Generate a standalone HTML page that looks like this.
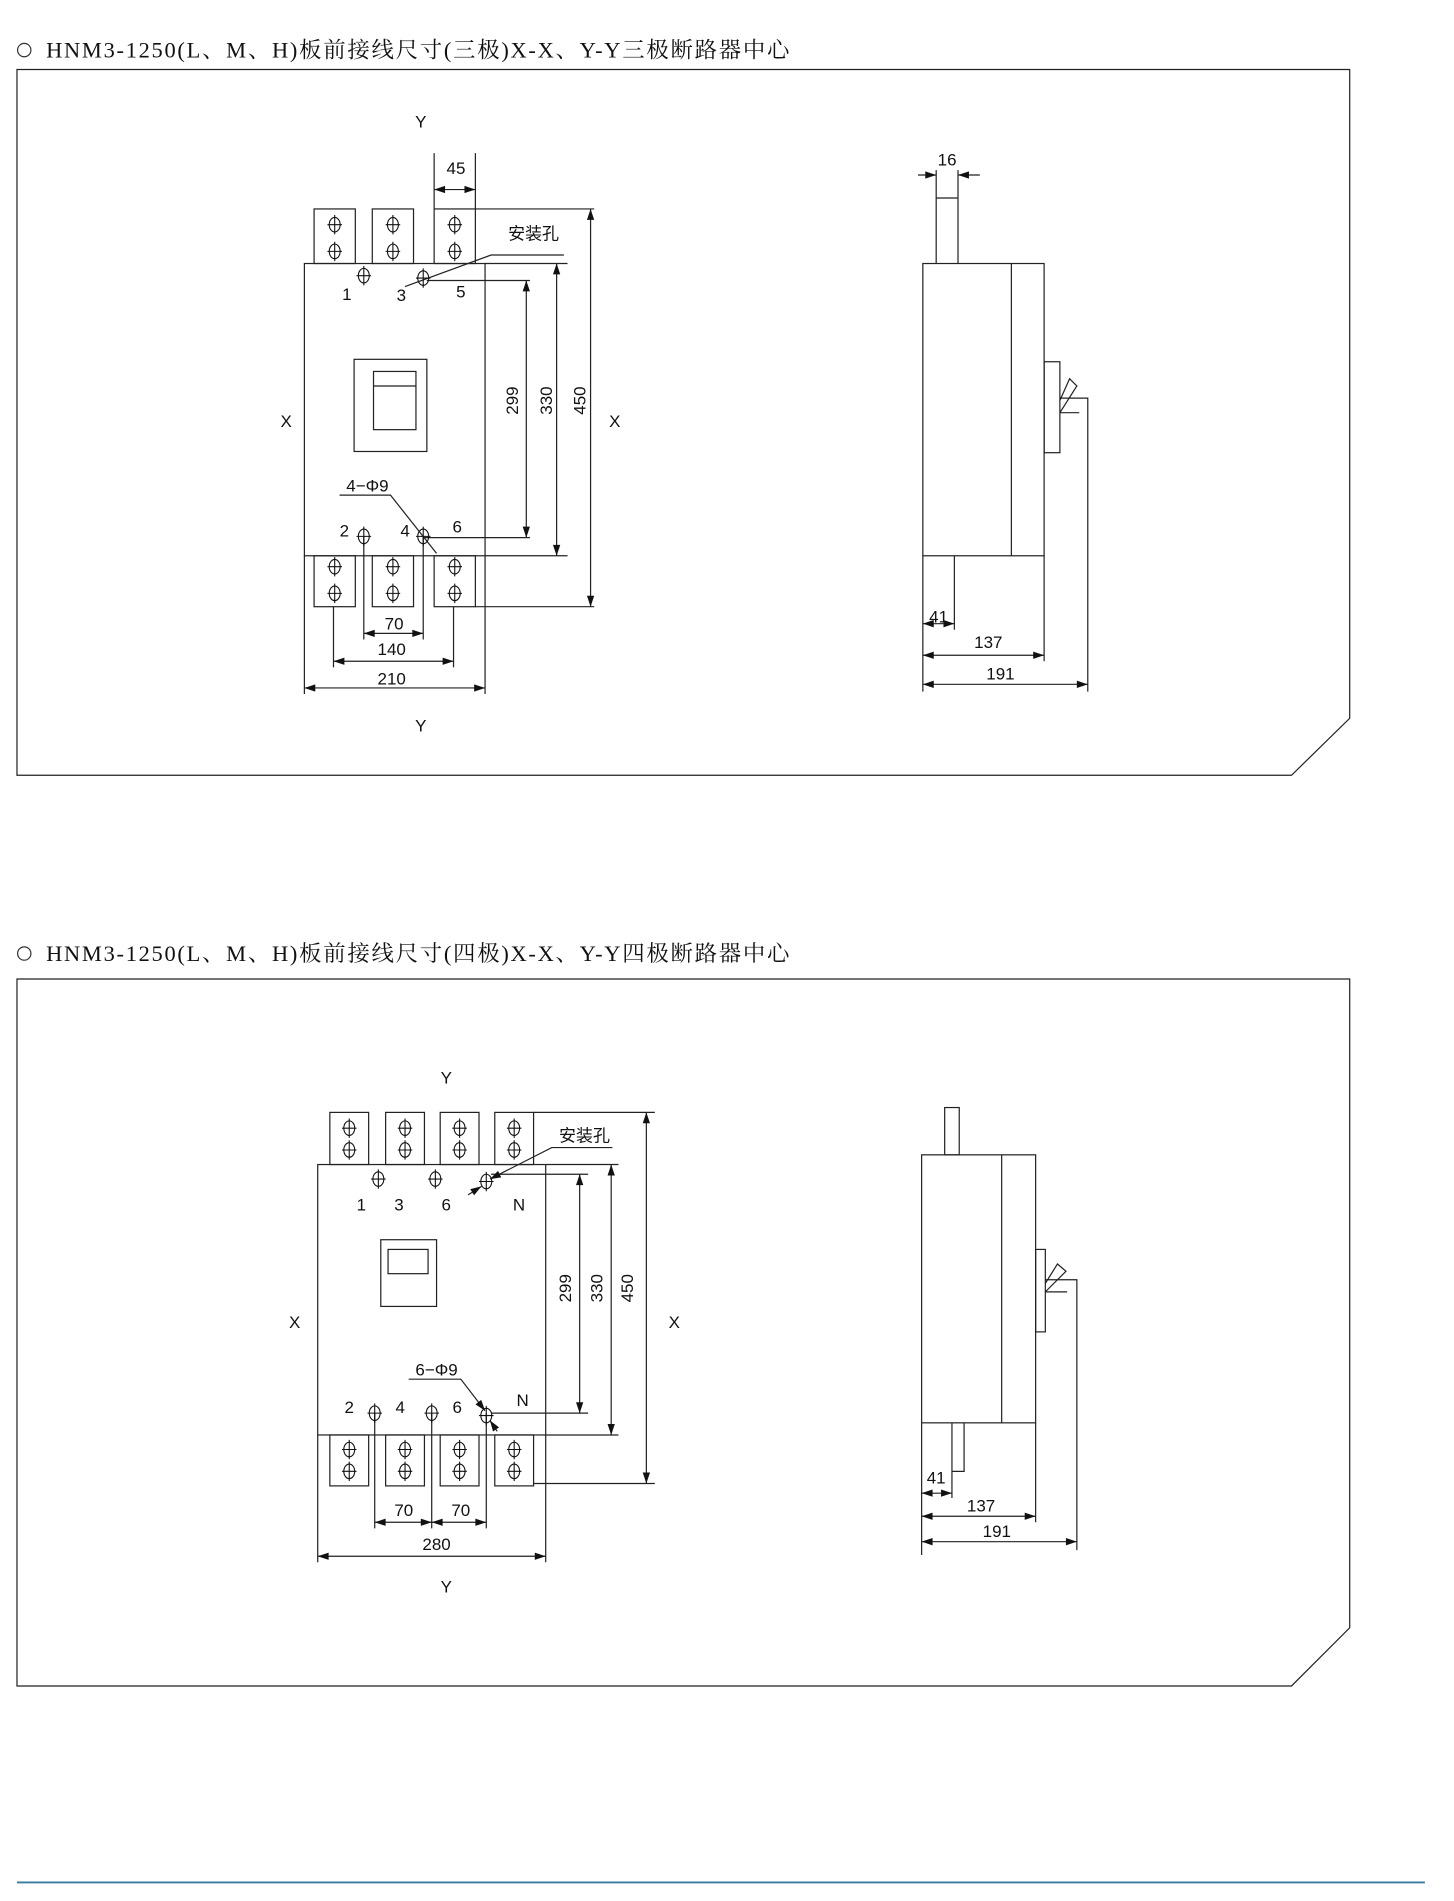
<!DOCTYPE html>
<html><head><meta charset="utf-8"><style>
html,body{margin:0;padding:0;background:#fff}
svg{display:block}
.t{font-family:"Liberation Sans","Noto Sans CJK SC",sans-serif;font-size:14px;fill:#111}
.ti{font-family:"Liberation Serif","Noto Serif CJK SC",serif;font-size:18.5px;fill:#111}
</style></head><body>
<svg width="1454" height="1901" viewBox="0 0 1199 1567" xmlns="http://www.w3.org/2000/svg">
<defs>
<polygon id="ar" points="0,0 -9,-3 -9,3" fill="#111"/>
<g id="h" fill="none" stroke="#111" stroke-width="0.9"><ellipse cx="0" cy="0" rx="4.5" ry="6"/><path d="M-6,0H6M0,-8V8"/></g>
</defs>
<g stroke="#222" stroke-width="1" fill="none">
<path d="M14,57H1113V592L1065,639H14Z"/>
<rect x="251" y="217" width="149" height="241"/>
<rect x="259" y="172" width="34" height="45"/><rect x="307" y="172" width="34" height="45"/><rect x="358" y="172" width="34" height="45"/>
<rect x="259" y="458" width="34" height="42"/><rect x="307" y="458" width="34" height="42"/><rect x="358" y="458" width="34" height="42"/>
<rect x="292" y="296" width="60" height="76"/><rect x="308" y="306" width="35" height="48"/><path d="M308,318H343"/>
<path d="M392,172H490M400,217H468M352,231H437M349,443H437M400,458H468M392,500H490"/>
<path d="M434,231V443M459,217V458M487,172V500"/>
<path d="M358,126V172M392,126V172M358,156H392"/>
<path d="M465,210H405L334,236"/>
<path d="M280,408H322L360,456"/>
<path d="M300,442V527M349,442V527M275,500V550M374,500V550M251,458V572M400,458V572"/>
<path d="M300,522H349M275,545H374M251,567H400"/>
<rect x="761" y="217" width="100" height="241"/><path d="M834,217V458"/>
<path d="M772,217V140M790,217V140M772,163H790"/>
<path d="M757,144H772M808,144H790"/>
<rect x="861" y="298" width="13" height="75"/>
<path d="M874,330L882,312L888,318L874,340M874,328H897V570M874,340H890"/>
<path d="M761,458V570M787,458V519M861,458V545"/>
<path d="M761,514H787M761,540H861M761,564H897"/>
<path d="M14,807H1113V1342L1065,1390H14Z"/>
<rect x="262" y="960" width="188" height="223"/>
<rect x="272" y="917" width="32" height="43"/><rect x="318" y="917" width="32" height="43"/><rect x="363" y="917" width="32" height="43"/><rect x="408" y="917" width="32" height="43"/>
<rect x="272" y="1183" width="32" height="42"/><rect x="318" y="1183" width="32" height="42"/><rect x="363" y="1183" width="32" height="42"/><rect x="408" y="1183" width="32" height="42"/>
<rect x="314" y="1022" width="46" height="55"/><rect x="320" y="1030" width="33" height="20"/>
<path d="M440,917H540M450,960H510M405,968H485M405,1165H485M450,1183H510M440,1223H540"/>
<path d="M478,968V1165M504,960V1183M533,917V1223"/>
<path d="M505,946H455L404,972"/><path d="M386,985L397,978"/>
<path d="M337,1137H380L400,1163"/><path d="M410,1180L404,1171"/>
<path d="M309,1165V1260M356,1165V1260M401,1165V1260M262,1183V1288M450,1183V1288"/>
<path d="M309,1255H401M262,1283H450"/>
<rect x="760" y="952" width="94" height="221"/><path d="M826,952V1173"/>
<rect x="779" y="913" width="12" height="39"/>
<rect x="854" y="1030" width="8" height="68"/>
<path d="M862,1058L872,1042L879,1048L862,1065M862,1055H888V1278M862,1065H880"/>
<path d="M760,1173V1282M785,1173V1235M785,1213H795V1173M854,1173V1255"/>
<path d="M760,1231H785M760,1250H854M760,1271H888"/>
</g>
<!-- arrowheads -->
<g>
<use href="#ar" transform="translate(434,231) rotate(-90)"/><use href="#ar" transform="translate(434,443) rotate(90)"/>
<use href="#ar" transform="translate(459,217) rotate(-90)"/><use href="#ar" transform="translate(459,458) rotate(90)"/>
<use href="#ar" transform="translate(487,172) rotate(-90)"/><use href="#ar" transform="translate(487,500) rotate(90)"/>
<use href="#ar" transform="translate(358,156) rotate(180)"/><use href="#ar" transform="translate(392,156)"/>
<use href="#ar" transform="translate(300,522) rotate(180)"/><use href="#ar" transform="translate(349,522)"/>
<use href="#ar" transform="translate(275,545) rotate(180)"/><use href="#ar" transform="translate(374,545)"/>
<use href="#ar" transform="translate(251,567) rotate(180)"/><use href="#ar" transform="translate(400,567)"/>
<use href="#ar" transform="translate(772,144)"/><use href="#ar" transform="translate(790,144) rotate(180)"/>
<use href="#ar" transform="translate(761,514) rotate(180)"/><use href="#ar" transform="translate(787,514)"/>
<use href="#ar" transform="translate(761,540) rotate(180)"/><use href="#ar" transform="translate(861,540)"/>
<use href="#ar" transform="translate(761,564) rotate(180)"/><use href="#ar" transform="translate(897,564)"/>
<use href="#ar" transform="translate(478,968) rotate(-90)"/><use href="#ar" transform="translate(478,1165) rotate(90)"/>
<use href="#ar" transform="translate(504,960) rotate(-90)"/><use href="#ar" transform="translate(504,1183) rotate(90)"/>
<use href="#ar" transform="translate(533,917) rotate(-90)"/><use href="#ar" transform="translate(533,1223) rotate(90)"/>
<use href="#ar" transform="translate(309,1255) rotate(180)"/><use href="#ar" transform="translate(356,1255)"/>
<use href="#ar" transform="translate(356,1255) rotate(180)"/><use href="#ar" transform="translate(401,1255)"/>
<use href="#ar" transform="translate(262,1283) rotate(180)"/><use href="#ar" transform="translate(450,1283)"/>
<use href="#ar" transform="translate(760,1231) rotate(180)"/><use href="#ar" transform="translate(785,1231)"/>
<use href="#ar" transform="translate(760,1250) rotate(180)"/><use href="#ar" transform="translate(854,1250)"/>
<use href="#ar" transform="translate(760,1271) rotate(180)"/><use href="#ar" transform="translate(888,1271)"/>
<use href="#ar" transform="translate(404,972) rotate(153)"/>
<use href="#ar" transform="translate(397,978) rotate(-32)"/>
<use href="#ar" transform="translate(400,1163) rotate(52)"/>
<use href="#ar" transform="translate(404,1171) rotate(236)"/>
</g>
<g>
<use href="#h" x="276" y="185"/><use href="#h" x="276" y="207"/><use href="#h" x="324" y="185"/><use href="#h" x="324" y="207"/><use href="#h" x="375" y="185"/><use href="#h" x="375" y="207"/>
<use href="#h" x="276" y="467"/><use href="#h" x="276" y="489"/><use href="#h" x="324" y="467"/><use href="#h" x="324" y="489"/><use href="#h" x="375" y="467"/><use href="#h" x="375" y="489"/>
<use href="#h" x="300" y="227"/><use href="#h" x="349" y="229"/><use href="#h" x="300" y="442"/><use href="#h" x="349" y="442"/>
<use href="#h" x="288" y="930"/><use href="#h" x="288" y="948"/><use href="#h" x="334" y="930"/><use href="#h" x="334" y="948"/><use href="#h" x="379" y="930"/><use href="#h" x="379" y="948"/><use href="#h" x="424" y="930"/><use href="#h" x="424" y="948"/>
<use href="#h" x="288" y="1195"/><use href="#h" x="288" y="1213"/><use href="#h" x="334" y="1195"/><use href="#h" x="334" y="1213"/><use href="#h" x="379" y="1195"/><use href="#h" x="379" y="1213"/><use href="#h" x="424" y="1195"/><use href="#h" x="424" y="1213"/>
<use href="#h" x="312" y="972"/><use href="#h" x="359" y="972"/><use href="#h" x="401" y="974"/>
<use href="#h" x="309" y="1165"/><use href="#h" x="356" y="1165"/><use href="#h" x="401" y="1167"/>
</g>
<circle cx="20" cy="41" r="5.5" fill="none" stroke="#333"/>
<text class="ti" x="38" y="47" textLength="613" lengthAdjust="spacing">HNM3-1250(L、M、H)板前接线尺寸(三极)X-X、Y-Y三极断路器中心</text>
<circle cx="20" cy="786" r="5.5" fill="none" stroke="#333"/>
<text class="ti" x="38" y="792" textLength="613" lengthAdjust="spacing">HNM3-1250(L、M、H)板前接线尺寸(四极)X-X、Y-Y四极断路器中心</text>
<g class="t" text-anchor="middle">
<text x="347" y="105">Y</text><text x="347" y="603">Y</text><text x="236" y="352">X</text><text x="507" y="352">X</text>
<text x="376" y="143">45</text><text x="440" y="197">安装孔</text>
<text x="286" y="247">1</text><text x="331" y="248">3</text><text x="380" y="245">5</text>
<text x="284" y="442">2</text><text x="334" y="442">4</text><text x="377" y="439">6</text>
<text x="303" y="405">4−Φ9</text>
<text x="325" y="519">70</text><text x="323" y="540">140</text><text x="323" y="564">210</text>
<text transform="translate(427,330) rotate(-90)">299</text>
<text transform="translate(455,330) rotate(-90)">330</text>
<text transform="translate(483,330) rotate(-90)">450</text>
<text x="781" y="136">16</text><text x="774" y="513">41</text><text x="815" y="534">137</text><text x="825" y="560">191</text>
<text x="368" y="893">Y</text><text x="368" y="1313">Y</text><text x="243" y="1095">X</text><text x="556" y="1095">X</text>
<text x="482" y="941">安装孔</text>
<text x="298" y="998">1</text><text x="329" y="998">3</text><text x="368" y="998">6</text><text x="428" y="998">N</text>
<text x="288" y="1165">2</text><text x="330" y="1165">4</text><text x="377" y="1165">6</text><text x="431" y="1159">N</text>
<text x="360" y="1134">6−Φ9</text>
<text x="333" y="1250">70</text><text x="380" y="1250">70</text><text x="360" y="1278">280</text>
<text transform="translate(471,1062) rotate(-90)">299</text>
<text transform="translate(497,1062) rotate(-90)">330</text>
<text transform="translate(522,1062) rotate(-90)">450</text>
<text x="772" y="1223">41</text><text x="809" y="1246">137</text><text x="822" y="1267">191</text>
</g>
<path d="M14,1552H1175" stroke="#3a7a9a" stroke-width="1.5"/>
</svg>
</body></html>
